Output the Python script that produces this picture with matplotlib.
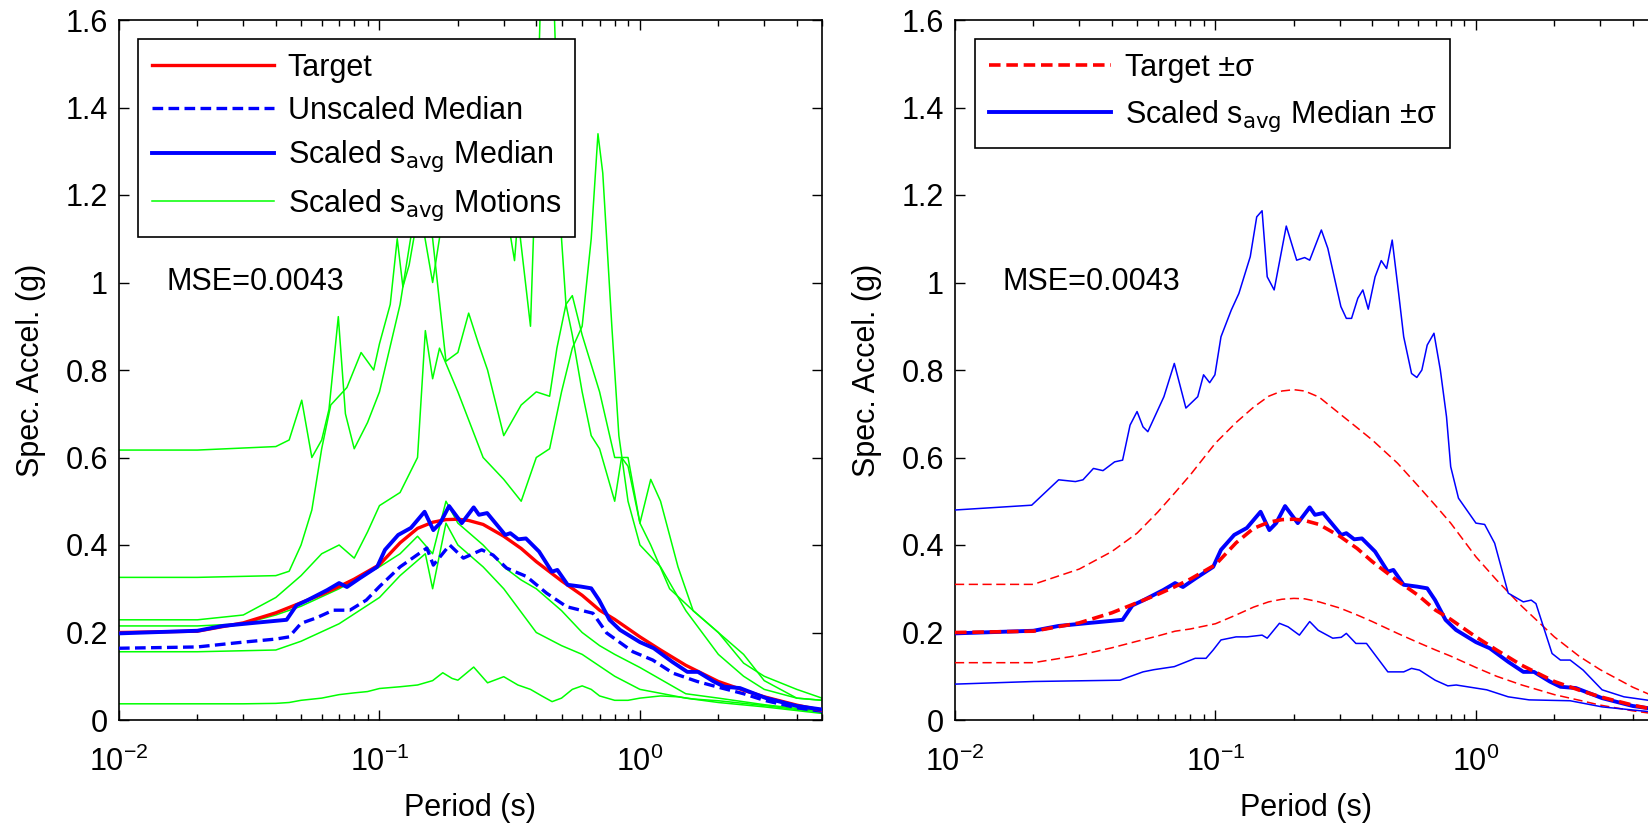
import numpy as np
import matplotlib
matplotlib.use("Agg")
import matplotlib.pyplot as plt

plt.rcParams['font.family'] = ['Liberation Sans Narrow', 'Liberation Sans', 'DejaVu Sans']
plt.rcParams['mathtext.fontset'] = 'custom'
plt.rcParams['mathtext.rm'] = 'Liberation Sans Narrow'
plt.rcParams['mathtext.it'] = 'Liberation Sans Narrow:italic'

# ---- data ----
# smooth target spectrum and +/- sigma
t_smooth = [0.01, 0.02, 0.03, 0.04, 0.05, 0.06, 0.07, 0.08, 0.1, 0.12, 0.14, 0.16, 0.18, 0.2,
            0.22, 0.25, 0.3, 0.35, 0.4, 0.5, 0.6, 0.7, 0.8, 1.0, 1.2, 1.5, 2.0, 2.5, 3.0, 4.0, 5.0]
target = [.200, .203, .222, .245, .268, .287, .305, .322, .355, .405, .438, .452, .458, .459,
          .456, .447, .420, .392, .362, .318, .285, .251, .230, .190, .160, .125, .088, .068, .053, .034, .022]
target_hi = [.31, .31, .345, .385, .427, .475, .52, .56, .633, .68, .715, .74, .752, .755,
             .752, .738, .70, .668, .64, .587, .535, .49, .45, .373, .32, .26, .19, .145, .115, .075, .05]
target_lo = [.131, .131, .148, .165, .18, .192, .203, .208, .22, .24, .258, .27, .276, .278,
             .277, .27, .256, .24, .225, .198, .177, .16, .146, .12, .10, .08, .058, .045, .034, .021, .013]

# scaled median
med_T = [0.01, 0.02, 0.025, 0.033, 0.044, 0.048, 0.053, 0.063, 0.07, 0.075, 0.084, 0.098, 0.105,
         0.118, 0.132, 0.149, 0.161, 0.171, 0.185, 0.207, 0.23, 0.241, 0.259, 0.304, 0.318, 0.341,
         0.365, 0.41, 0.459, 0.482, 0.528, 0.593, 0.65, 0.697, 0.764, 0.838, 1.0, 1.13, 1.33, 1.52,
         1.67, 1.92, 2.11, 2.42, 3.05, 4.0, 5.0]
med_v = [.198, .204, .215, .222, .229, .262, .274, .297, .313, .304, .324, .350, .389,
         .423, .439, .476, .434, .450, .489, .450, .486, .469, .473, .423, .427, .413,
         .415, .385, .339, .343, .309, .305, .301, .274, .229, .206, .178, .164, .133, .110,
         .110, .088, .076, .073, .050, .032, .024]

# unscaled median
un_T = [0.01, 0.02, 0.03, 0.04, 0.045, 0.05, 0.057, 0.0665, 0.077, 0.089, 0.1, 0.12, 0.152, 0.161,
        0.186, 0.21, 0.247, 0.273, 0.308, 0.367, 0.438, 0.523, 0.66, 0.745, 0.94, 1.12, 1.34,
        1.66, 2.0, 2.5, 3.0, 4.0, 5.0]
un_v = [.164, .167, .178, .185, .190, .221, .233, .251, .251, .274, .305, .350, .393, .354,
        .400, .370, .389, .377, .347, .328, .290, .259, .244, .199, .156, .137, .107,
        .088, .075, .060, .045, .028, .020]

# scaled median +/- sigma
hi_T = [0.01, 0.0197, 0.025, 0.029, 0.031, 0.034, 0.037, 0.041, 0.044, 0.047, 0.05, 0.0527, 0.055,
        0.0634, 0.0695, 0.077, 0.0855, 0.09, 0.095, 0.0995, 0.105, 0.115, 0.123, 0.136, 0.144,
        0.151, 0.158, 0.168, 0.187, 0.205, 0.22, 0.23, 0.255, 0.27, 0.303, 0.318, 0.333, 0.352,
        0.368, 0.386, 0.41, 0.433, 0.454, 0.477, 0.505, 0.528, 0.566, 0.593, 0.62, 0.65, 0.69,
        0.73, 0.771, 0.8, 0.857, 1.0, 1.08, 1.18, 1.33, 1.52, 1.63, 1.7, 1.96, 2.11, 2.3, 2.58,
        3.05, 3.7, 5.0]
hi_v = [.48, .491, .549, .545, .549, .575, .57, .59, .594, .674, .705, .67, .659,
        .739, .815, .713, .739, .789, .771, .789, .876, .937, .975, 1.059, 1.15,
        1.164, 1.013, .983, 1.129, 1.051, 1.057, 1.051, 1.12, 1.078, .945, .918, .918, .964,
        .983, .939, 1.013, 1.05, 1.032, 1.097, .975, .876, .792, .783, .80, .857, .884,
        .80, .693, .579, .507, .45, .447, .404, .29, .27, .274, .266, .152, .137, .137, .114,
        .069, .053, .042]
lo_T = [0.01, 0.02, 0.043, 0.0527, 0.058, 0.0695, 0.0836, 0.092, 0.098, 0.105, 0.12, 0.132, 0.151,
        0.158, 0.176, 0.19, 0.21, 0.23, 0.248, 0.282, 0.304, 0.318, 0.346, 0.38, 0.459, 0.528,
        0.566, 0.607, 0.697, 0.78, 0.84, 1.1, 1.33, 1.6, 2.3, 3.05, 5.0]
lo_v = [.082, .088, .091, .110, .115, .122, .141, .141, .160, .183, .190, .190, .194,
        .187, .221, .213, .194, .225, .205, .187, .189, .198, .175, .175, .110, .110,
        .118, .114, .091, .078, .080, .069, .053, .046, .044, .030, .017]

# individual scaled motions
g1_T = [0.01, 0.02, 0.04, 0.045, 0.0503, 0.055, 0.06, 0.064, 0.0695, 0.074, 0.08, 0.09, 0.1, 0.12,
        0.14, 0.16, 0.175, 0.2, 0.25, 0.3, 0.33, 0.34, 0.38, 0.4, 0.42, 0.45, 0.47, 0.5, 0.52,
        0.55, 0.6, 0.65, 0.7, 0.8, 0.85, 0.9, 1.0, 1.1, 1.3, 1.6, 2.0, 2.5, 3.0, 4.0, 5.0]
g1_v = [.617, .617, .625, .64, .731, .60, .64, .71, .922, .70, .62, .68, .75, .95,
        1.2, 1.0, 1.15, 1.3, 1.4, 1.2, 1.05, 1.15, .9, 1.3, 1.75, 1.9, 1.6, 1.1, .95,
        .88, .75, .65, .62, .5, .6, .58, .45, .4, .3, .25, .2, .13, .1, .07, .05]
g2_T = [0.01, 0.02, 0.04, 0.045, 0.05, 0.055, 0.06, 0.065, 0.075, 0.085, 0.095, 0.1, 0.11, 0.117,
        0.123, 0.13, 0.14, 0.15, 0.16, 0.18, 0.2, 0.22, 0.24, 0.26, 0.3, 0.35, 0.4, 0.45, 0.48,
        0.52, 0.55, 0.6, 0.7, 0.8, 0.9, 1.0, 1.1, 1.2, 1.4, 1.6, 2.0, 2.5, 3.0, 4.0, 5.0]
g2_v = [.326, .326, .33, .34, .40, .48, .62, .72, .76, .84, .80, .86, .95, 1.10,
        .99, 1.04, 1.15, 1.2, 1.1, .82, .84, .93, .86, .80, .65, .72, .75, .74, .85,
        .95, .97, .88, .75, .6, .6, .45, .55, .5, .35, .25, .2, .15, .09, .05, .045]
g3_T = [0.01, 0.02, 0.03, 0.04, 0.05, 0.06, 0.07, 0.08, 0.09, 0.1, 0.12, 0.14, 0.15, 0.16,
        0.17, 0.2, 0.25, 0.3, 0.35, 0.4, 0.45, 0.5, 0.55, 0.6, 0.65, 0.69, 0.72, 0.78, 0.83,
        0.9, 1.0, 1.2, 1.5, 2.0, 2.5, 3.0, 4.0, 5.0]
g3_v = [.229, .229, .24, .28, .33, .38, .40, .37, .43, .49, .52, .6, .89, .78,
        .85, .75, .6, .55, .5, .6, .62, .75, .85, .9, 1.1, 1.34, 1.25, .9, .65,
        .5, .4, .35, .25, .15, .1, .07, .05, .045]
g4_T = [0.01, 0.02, 0.03, 0.04, 0.05, 0.07, 0.1, 0.12, 0.14, 0.16, 0.18, 0.2, 0.25, 0.3, 0.35,
        0.4, 0.5, 0.6, 0.7, 0.8, 1.0, 1.5, 2.0, 3.0, 5.0]
g4_v = [.215, .215, .22, .24, .26, .30, .35, .38, .42, .38, .50, .45, .40, .35, .32,
        .30, .25, .20, .17, .15, .12, .06, .05, .035, .02]
g5_T = [0.01, 0.02, 0.04, 0.05, 0.07, 0.1, 0.12, 0.15, 0.16, 0.18, 0.2, 0.25, 0.3, 0.4, 0.5,
        0.6, 0.8, 1.0, 1.5, 2.0, 3.0, 5.0]
g5_v = [.156, .156, .16, .18, .22, .28, .33, .38, .30, .45, .40, .35, .30, .20, .17,
        .15, .10, .07, .05, .04, .03, .015]
g6_T = [0.01, 0.02, 0.03, 0.04, 0.045, 0.05, 0.06, 0.07, 0.08, 0.09, 0.1, 0.12, 0.14, 0.16,
        0.175, 0.19, 0.2, 0.23, 0.26, 0.3, 0.34, 0.38, 0.42, 0.46, 0.5, 0.55, 0.6, 0.65, 0.7,
        0.8, 0.9, 1.0, 1.2, 1.4, 1.6, 2.0, 2.5, 3.0, 4.0, 5.0]
g6_v = [.037, .037, .037, .038, .04, .045, .05, .058, .062, .065, .072, .076, .08, .09,
        .108, .095, .091, .121, .085, .099, .08, .07, .055, .042, .05, .07, .078, .07, .055,
        .045, .045, .05, .055, .053, .048, .044, .038, .033, .024, .018]

motions = [(g1_T, g1_v), (g2_T, g2_v), (g3_T, g3_v), (g4_T, g4_v), (g5_T, g5_v), (g6_T, g6_v)]

mse_text = 'MSE=0.0043'
FS = 22

W, H = 1648, 827
fig = plt.figure(figsize=(W / 100, H / 100), dpi=100)

def px_axes(x0, y0, w, h):
    # x0,y0 = top-left corner in pixels
    return fig.add_axes([x0 / W, 1 - (y0 + h) / H, w / W, h / H])

def style(ax):
    ax.set_xscale('log')
    ax.set_xlim(0.01, 5)
    ax.set_ylim(0, 1.6)
    ax.set_yticks([0, 0.2, 0.4, 0.6, 0.8, 1, 1.2, 1.4, 1.6])
    ax.set_yticklabels(['0', '0.2', '0.4', '0.6', '0.8', '1', '1.2', '1.4', '1.6'])
    ax.tick_params(which='both', direction='in', top=True, right=True, labelsize=FS, width=1)
    ax.tick_params(which='major', length=7, pad=8)
    ax.tick_params(which='minor', length=4)
    ax.tick_params(axis='x', which='major', pad=19)
    for s in ax.spines.values():
        s.set_linewidth(1.2)
    ax.set_xlabel('Period (s)', fontsize=FS, labelpad=11)
    ax.set_ylabel('Spec. Accel. (g)', fontsize=FS, labelpad=14)
    ax.text(0.0152, 1.0, mse_text, fontsize=FS, va='center', ha='left')

leg_kw = dict(loc='upper left', borderaxespad=0, fontsize=FS, handlelength=4.0, fancybox=False,
              framealpha=1, edgecolor='k', borderpad=0.45, handletextpad=0.45)

# left panel
ax1 = px_axes(119, 20, 703, 700)
style(ax1)
for tt, vv in motions:
    ax1.plot(tt, vv, color=(0, 1, 0), lw=1.1, zorder=2)
l_g = ax1.lines[0]
l_t, = ax1.plot(t_smooth, target, color='r', lw=2.4, zorder=4)
l_u, = ax1.plot(un_T, un_v, color='b', lw=2.4, ls=(0, (3.2, 1.6)), zorder=3)
l_m, = ax1.plot(med_T, med_v, color='b', lw=2.8, zorder=5)
leg1 = ax1.legend([l_t, l_u, l_m, l_g],
                  ['Target', 'Unscaled Median', 'Scaled s$_{\\rm avg}$ Median', 'Scaled s$_{\\rm avg}$ Motions'],
                  bbox_to_anchor=(138 / W, 1 - 39 / H), bbox_transform=fig.transFigure,
                  labelspacing=0.42, **leg_kw)
leg1.get_frame().set_linewidth(1.2)
leg1.set_zorder(10)

# right panel (cut off at the figure edge like the original)
ax2 = px_axes(955, 20, 703, 700)
style(ax2)
ax2.plot(t_smooth, target_hi, color='r', lw=1.1, ls=(0, (6, 3)), zorder=3)
ax2.plot(t_smooth, target_lo, color='r', lw=1.1, ls=(0, (6, 3)), zorder=3)
ax2.plot(hi_T, hi_v, color='b', lw=1.1, zorder=4)
ax2.plot(lo_T, lo_v, color='b', lw=1.1, zorder=4)
r_m, = ax2.plot(med_T, med_v, color='b', lw=2.8, zorder=5)
r_t, = ax2.plot(t_smooth, target, color='r', lw=2.6, ls=(0, (3.2, 1.6)), zorder=6)
leg2 = ax2.legend([r_t, r_m], ['Target \u00b1\u03c3', 'Scaled s$_{\\rm avg}$ Median \u00b1\u03c3'],
                  bbox_to_anchor=(975 / W, 1 - 39 / H), bbox_transform=fig.transFigure,
                  labelspacing=0.5, **leg_kw)
leg2.get_frame().set_linewidth(1.2)
leg2.set_zorder(10)

fig.savefig('out.png', dpi=100)
